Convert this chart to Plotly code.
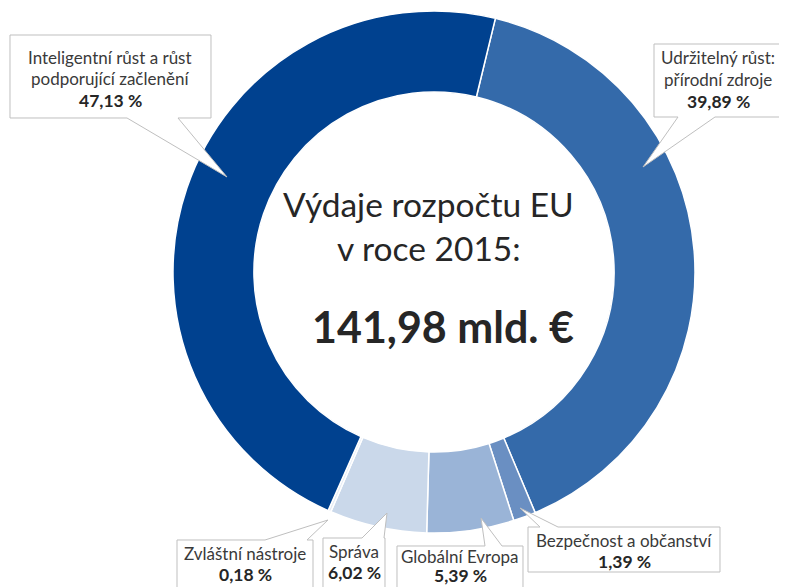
import plotly.graph_objects as go

# ---- data ----
categories = [
    "Udržitelný růst: přírodní zdroje",
    "Bezpečnost a občanství",
    "Globální Evropa",
    "Správa",
    "Zvláštní nástroje",
    "Inteligentní růst a růst podporující začlenění",
]
shares = [39.89, 1.39, 5.39, 6.02, 0.18, 47.13]
colors = ["#346AAA", "#6A8FC2", "#9AB4D7", "#CAD8EA", "#E4EBF5", "#00418F"]
# callout text lines (same order as categories)
callout_lines = [
    ["Udržitelný růst:", "přírodní zdroje"],
    ["Bezpečnost a občanství"],
    ["Globální Evropa"],
    ["Správa"],
    ["Zvláštní nástroje"],
    ["Inteligentní růst a růst", "podporující začlenění"],
]
title_lines = ["Výdaje rozpočtu EU", "v roce 2015:"]
total_text = "141,98 mld. €"

W, H = 787, 587
FONT = "Lato"
OFF = 8  # page body margin offset

def px(x):
    return (x - OFF) / W

def py(y):
    return 1 - (y - OFF) / H

cx, cy, R = 434, 272, 261

fig = go.Figure(go.Pie(
    labels=categories,
    values=shares,
    sort=False,
    direction="clockwise",
    rotation=13.6,
    hole=0.69,
    textinfo="none",
    hoverinfo="label+percent",
    marker=dict(colors=colors, line=dict(color="white", width=1.5)),
    domain=dict(x=[px(cx - R), px(cx + R)], y=[max(0, py(cy + R)), min(1, py(cy - R))]),
    showlegend=False,
))

# callout geometry (pixels)
callouts = [
    dict(box=(654, 44, 782, 117), base=(678, 715), tip=(643, 167), side="bottom", tx=718, ty=[58, 80, 101]),
    dict(box=(528, 527, 720, 572), base=(540, 558), tip=(520, 508), side="top", tx=624, ty=[540, 561]),
    dict(box=(397, 546, 523, 600), base=(485, 502), tip=(481, 518), side="top", tx=460, ty=[556, 575]),
    dict(box=(323, 538, 385, 600), base=(362, 384), tip=(387, 513), side="top", tx=354, ty=[551, 572]),
    dict(box=(177, 540, 313, 600), base=(265, 307), tip=(328, 520), side="top", tx=245, ty=[553, 574]),
    dict(box=(10, 35, 211, 118), base=(127, 178), tip=(227, 177), side="bottom", tx=110, ty=[58, 79, 100]),
]

shapes = []
annotations = []
for i, c in enumerate(callouts):
    x0, y0, x1, y1 = c["box"]
    a, b = c["base"]
    tx_, ty_ = c["tip"]
    if c["side"] == "top":
        pts = [(x0, y0), (a, y0), (tx_, ty_), (b, y0), (x1, y0), (x1, y1), (x0, y1)]
    else:
        pts = [(x0, y0), (x1, y0), (x1, y1), (b, y1), (tx_, ty_), (a, y1), (x0, y1)]
    path = "M " + " L ".join(f"{px(x):.5f},{py(y):.5f}" for x, y in pts) + " Z"
    shapes.append(dict(type="path", xref="paper", yref="paper", path=path,
                       fillcolor="white", line=dict(color="#BFBFBF", width=1)))
    pct = f"<b>{shares[i]:.2f}".replace(".", ",") + " %</b>"
    lines = [(t, 17, "#3A3A3A") for t in callout_lines[i]] + [(pct, 17.5, "#262626")]
    for (ln, sz, col), yy in zip(lines, c["ty"]):
        annotations.append(dict(x=px(c["tx"]), y=py(yy), xref="paper", yref="paper",
                                text=ln, showarrow=False, xanchor="center", yanchor="middle",
                                font=dict(family=FONT, size=sz, color=col)))

# centre texts
annotations.append(dict(x=px(428), y=py(204), xref="paper", yref="paper", text=title_lines[0],
                        showarrow=False, xanchor="center", yanchor="middle",
                        font=dict(family=FONT, size=33.5, color="#262626")))
annotations.append(dict(x=px(429), y=py(248), xref="paper", yref="paper", text=title_lines[1],
                        showarrow=False, xanchor="center", yanchor="middle",
                        font=dict(family=FONT, size=33.5, color="#262626")))
annotations.append(dict(x=px(443), y=py(326), xref="paper", yref="paper", text=f"<b>{total_text}</b>",
                        showarrow=False, xanchor="center", yanchor="middle",
                        font=dict(family=FONT, size=43, color="#262626")))

fig.update_layout(
    width=W, height=H,
    margin=dict(l=0, r=0, t=0, b=0),
    paper_bgcolor="white", plot_bgcolor="white",
    shapes=shapes, annotations=annotations,
)

fig.write_html("out.html")
